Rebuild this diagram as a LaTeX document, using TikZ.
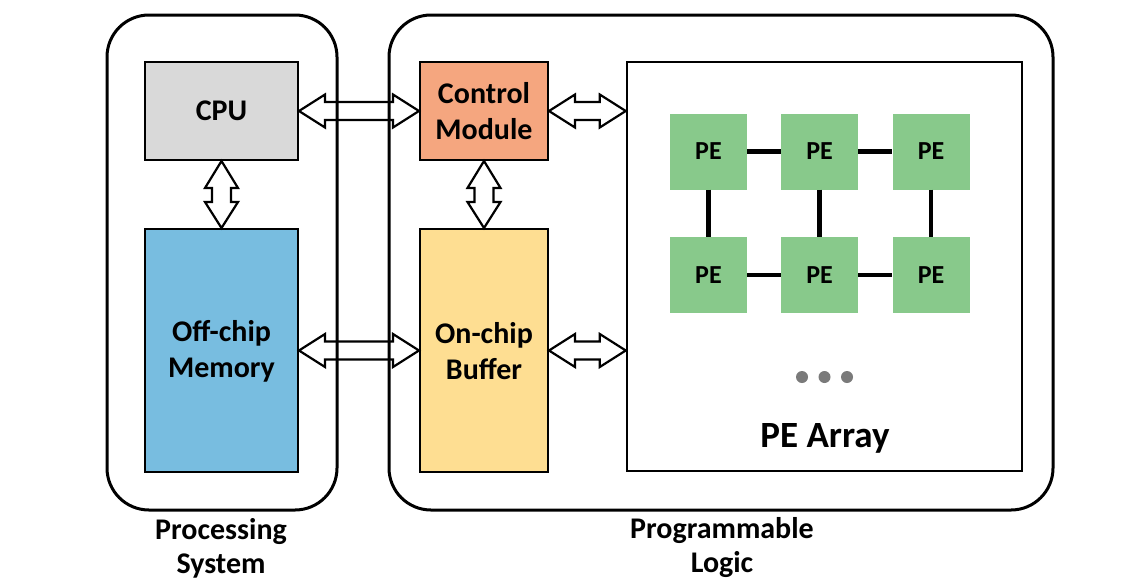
\documentclass[tikz,border=0pt]{standalone}
\usepackage{fontspec}
\setmainfont{Carlito}
\usetikzlibrary{calc}
\definecolor{cpugray}{HTML}{D9D9D9}
\definecolor{memblue}{HTML}{78BDE0}
\definecolor{ctrlorange}{HTML}{F5A67F}
\definecolor{bufyellow}{HTML}{FEDE92}
\definecolor{pegreen}{HTML}{88C98B}
\definecolor{dotgray}{HTML}{7A7A7A}
\newcommand\fatH[2]{%
  \draw[fatarrow] (#1) -- ($(#1)+(26,-16.5)$) -- ($(#1)+(26,-9)$) -- ($(#2)+(-26,-9)$) -- ($(#2)+(-26,-16.5)$) -- (#2) -- ($(#2)+(-26,16.5)$) -- ($(#2)+(-26,9)$) -- ($(#1)+(26,9)$) -- ($(#1)+(26,16.5)$) -- cycle;}
\newcommand\fatV[2]{%
  \draw[fatarrow] (#1) -- ($(#1)+(-16.5,27)$) -- ($(#1)+(-9.5,27)$) -- ($(#2)+(-9.5,-26)$) -- ($(#2)+(-16.5,-26)$) -- (#2) -- ($(#2)+(16.5,-26)$) -- ($(#2)+(9.5,-26)$) -- ($(#1)+(9.5,27)$) -- ($(#1)+(16.5,27)$) -- cycle;}
\begin{document}
\begin{tikzpicture}[x=1pt,y=-1pt,
  every node/.style={font=\fontsize{30}{36}\selectfont\bfseries, align=center, inner sep=0pt},
  block/.style={draw=black, line width=2pt, rectangle},
  pebox/.style={rectangle, fill=pegreen, minimum width=77pt, minimum height=76pt, font=\fontsize{26}{30}\selectfont\bfseries},
  outer/.style={draw=black, line width=3pt, rectangle, rounded corners=42pt},
  region label/.style={font=\fontsize{30}{34}\selectfont\bfseries},
  fatarrow/.style={draw=black, fill=white, line width=2.2pt, line join=miter},
  link/.style={draw=black, line width=4.5pt},
  dot/.style={circle, fill=dotgray, minimum size=12pt}]
\useasboundingbox (0,0) rectangle (1140,582);
\fill[white] (0,0) rectangle (1140,582);
% inner blocks
\node[block, fill=cpugray, minimum width=153pt, minimum height=98pt] (cpu) at (221.5,111) {CPU};
\node[block, fill=memblue, minimum width=153pt, minimum height=243pt] (mem) at (221.5,350.5) {};
\node at (221.5,351.5) (memtxt) {Off-chip\\Memory};
\node[block, fill=ctrlorange, minimum width=128pt, minimum height=98pt] (ctrl) at (484,111) {Control\\Module};
\node[block, fill=bufyellow, minimum width=128pt, minimum height=243pt] (buf) at (484,350.5) {};
\node at (484,351.5) (buftxt) {On-chip\\Buffer};
\node[block, fill=white, line width=2.5pt, minimum width=395pt, minimum height=409pt] (pea) at (824.5,266.5) {};
% PEs
\node[pebox] (p11) at (708.5,151.5) {PE};
\node[pebox] (p12) at (819.5,151.5) {PE};
\node[pebox] (p13) at (931,151.5) {PE};
\node[pebox] (p21) at (708.5,275) {PE};
\node[pebox] (p22) at (819.5,275) {PE};
\node[pebox] (p23) at (931,275) {PE};
\draw[link] (p11) -- (p12);
\draw[link] (p12) -- (p13);
\draw[link] (p21) -- (p22);
\draw[link] (p22) -- (p23);
\draw[link] (p11) -- (p21);
\draw[link] (p12) -- (p22);
\draw[link] (p13) -- (p23);
\node[dot] (d1) at (802,377) {};
\node[dot] (d2) at (824.5,377) {};
\node[dot] (d3) at (847,377) {};
\node[font=\fontsize{37}{42}\selectfont\bfseries] (pelabel) at (825,438) {PE Array};
% connectors
\coordinate (c1) at (ctrl.east -| pea.west);
\coordinate (c2) at (buf.east -| pea.west);
\fatH{cpu.east}{ctrl.west}
\fatH{mem.east}{buf.west}
\fatH{ctrl.east}{c1}
\fatH{buf.east}{c2}
\fatV{cpu.south}{mem.north}
\fatV{ctrl.south}{buf.north}
% outer regions
\node[outer, minimum width=230pt, minimum height=495pt] (ps) at (222,262.5) {};
\node[outer, minimum width=664pt, minimum height=495pt] (pl) at (721,262.5) {};
\node[region label] (pslabel) at (221,548) {Processing\\System};
\node[region label] (pllabel) at (722,548) {Programmable\\Logic};
\end{tikzpicture}
\end{document}
